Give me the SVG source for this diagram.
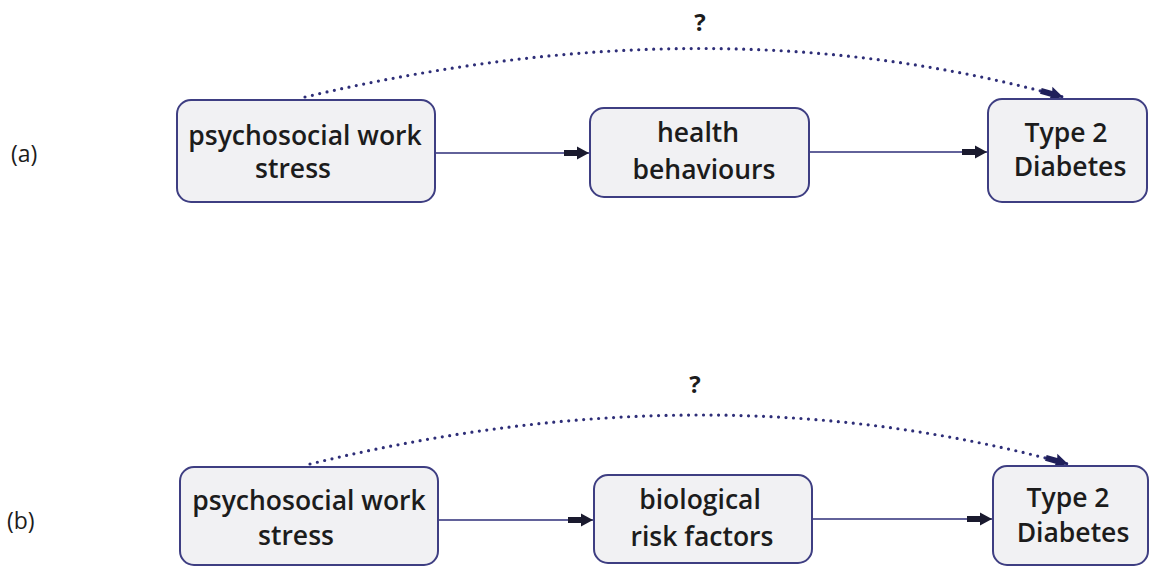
<svg xmlns="http://www.w3.org/2000/svg" width="1150" height="567" viewBox="0 0 1150 567">
<defs>
<style>
.box{fill:#f1f1f3;stroke:#3e3e82;stroke-width:2}
.t{font-family:"Open Sans","Noto Sans",sans-serif;font-weight:600;font-size:26.5px;fill:#1c1c1c;text-anchor:middle}
.lab{font-family:"Open Sans","Noto Sans",sans-serif;font-size:23px;fill:#1c1c1c}
.q{font-family:"Open Sans","Noto Sans",sans-serif;font-weight:700;font-size:24px;fill:#1c1c1c;text-anchor:middle}
.ln{fill:none;stroke:#2e2e78;stroke-width:1.5}
.dot{fill:none;stroke:#2e2e78;stroke-width:3.2;stroke-dasharray:0 7.5;stroke-linecap:round}
</style>
<marker id="ah" markerUnits="userSpaceOnUse" markerWidth="28" markerHeight="16" refX="26" refY="8" orient="auto">
<path d="M1,5 L14,5 L14,1.5 L26,8 L14,14.5 L14,11 L1,11 Z" fill="#1a1a2e"/>
</marker>
<marker id="ahd" markerUnits="userSpaceOnUse" markerWidth="26" markerHeight="16" refX="24" refY="8" orient="auto">
<path d="M1,5 L12,5 L11,1 L24,8 L11,15 L12,11 L1,11 Z" fill="#1f1f5a"/>
</marker>
</defs>
<text class="lab" x="11" y="162">(a)</text>
<text class="lab" x="7" y="529">(b)</text>
<g id="connectors">
<path class="ln" d="M435,153 L589,153" marker-end="url(#ah)"/>
<path class="ln" d="M809,152 L987,152" marker-end="url(#ah)"/>
<path class="dot" d="M305,97 Q716,0 1063,97" marker-end="url(#ahd)"/>
<text class="q" x="700" y="31">?</text>
<path class="ln" d="M438,520 L593,520" marker-end="url(#ah)"/>
<path class="ln" d="M812,519 L992,519" marker-end="url(#ah)"/>
<path class="dot" d="M310,464 Q712,366 1068,464" marker-end="url(#ahd)"/>
<text class="q" x="695" y="393">?</text>
</g>
<g id="a-stress">
<rect class="box" x="177" y="100" width="258" height="102" rx="14"/>
<text class="t" x="305" y="145">psychosocial work</text>
<text class="t" x="293" y="178">stress</text>
</g>
<g id="a-health">
<rect class="box" x="590" y="108" width="219" height="89" rx="14"/>
<text class="t" x="698" y="142">health</text>
<text class="t" x="704" y="179">behaviours</text>
</g>
<g id="a-diabetes">
<rect class="box" x="988" y="99" width="159" height="103" rx="14"/>
<text class="t" x="1066" y="142">Type 2</text>
<text class="t" x="1070" y="176">Diabetes</text>
</g>
<g id="b-stress">
<rect class="box" x="180" y="467" width="258" height="98" rx="14"/>
<text class="t" x="309" y="510">psychosocial work</text>
<text class="t" x="296" y="545">stress</text>
</g>
<g id="b-bio">
<rect class="box" x="594" y="475" width="218" height="88" rx="14"/>
<text class="t" x="700" y="509">biological</text>
<text class="t" x="702" y="546">risk factors</text>
</g>
<g id="b-diabetes">
<rect class="box" x="993" y="466" width="155" height="99" rx="14"/>
<text class="t" x="1068" y="507">Type 2</text>
<text class="t" x="1073" y="542">Diabetes</text>
</g>
</svg>
